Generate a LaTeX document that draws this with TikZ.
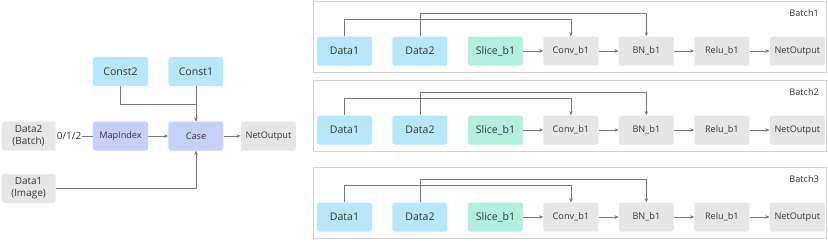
\documentclass[tikz,border=0pt]{standalone}
\usepackage{fontspec}
\setmainfont{Open Sans}
\usepackage{tikz}
\usetikzlibrary{positioning,arrows.meta}
\definecolor{cyanbox}{HTML}{B7E7FB}
\definecolor{lavbox}{HTML}{C5D1FB}
\definecolor{mintbox}{HTML}{B2EFE1}
\definecolor{graybox}{HTML}{E6E6E9}
\definecolor{txtgray}{HTML}{363636}
\definecolor{linegray}{HTML}{787878}
\definecolor{framegray}{HTML}{D2D2D2}

\begin{document}
\begin{tikzpicture}[
  x=0.03cm, y=-0.03cm,
  box/.style={rectangle, rounded corners=1.5pt, minimum width=1.65cm,
              minimum height=0.87cm, align=center, inner sep=1pt,
              text=txtgray, font=\fontsize{7.8}{9}\selectfont},
  databox/.style={box, fill=cyanbox, font=\fontsize{9}{10}\selectfont},
  slicebox/.style={box, fill=mintbox, font=\fontsize{9}{10}\selectfont},
  mapbox/.style={box, fill=lavbox},
  opbox/.style={box, fill=graybox},
  inbox/.style={box, fill=graybox, minimum width=1.62cm,
                font=\fontsize{8.5}{10.2}\selectfont},
  arr/.style={-{Stealth[length=3.5pt,width=3pt]}, draw=linegray, line width=0.5pt},
  ln/.style={draw=linegray, line width=0.5pt},
  frame/.style={draw=framegray, line width=0.6pt, fill=white},
  node distance=0.6cm,
]
\useasboundingbox (0,0) rectangle (828,240);

% case graph
\node[mapbox] (mapidx) at (120.5,136) {MapIndex};
\node[mapbox, right=of mapidx] (case) {Case};
\node[opbox, right=0.51cm of case] (netout) {NetOutput};
\node[databox, above=1.05cm of mapidx] (const2) {Const2};
\node[databox, above=1.05cm of case] (const1) {Const1};
\node[inbox, left=1.11cm of mapidx] (data2) {Data2\\(Batch)};
\node[inbox, below=0.69cm of data2] (data1) {Data1\\(Image)};

\draw[ln] (data2) -- node[pos=0.36, fill=white, inner sep=1pt, text=txtgray,
  font=\fontsize{8.5}{10}\selectfont]{0/1/2} (mapidx);
\draw[arr] (mapidx) -- (case);
\draw[arr] (case) -- (netout);
\draw[ln] (const2.south) -- ++(0,18) -| (case.north);
\draw[arr] (const1) -- (case);
\draw[arr] (data1.east) -| (case.south);

% batch graphs
\foreach \i/\t in {1/1,2/80,3/167}{
  \draw[frame] (313,\t) rectangle (826,\t+71);
  \node[anchor=east, text=txtgray, font=\fontsize{7.8}{9}\selectfont]
    (lbl-\i) at (823,\t+12) {Batch\i};
  \node[databox] (d1-\i) at (344.5,\t+50) {Data1};
  \node[databox, right=of d1-\i] (d2-\i) {Data2};
  \node[slicebox, right=of d2-\i] (sl-\i) {Slice\_b1};
  \node[opbox, right=of sl-\i] (cv-\i) {Conv\_b1};
  \node[opbox, right=of cv-\i] (bn-\i) {BN\_b1};
  \node[opbox, right=of bn-\i] (rl-\i) {Relu\_b1};
  \node[opbox, right=of rl-\i] (no-\i) {NetOutput};
  \draw[arr] (sl-\i) -- (cv-\i);
  \draw[arr] (cv-\i) -- (bn-\i);
  \draw[arr] (bn-\i) -- (rl-\i);
  \draw[arr] (rl-\i) -- (no-\i);
  \draw[arr] (d1-\i.north) -- ++(0,-16.5) -| (cv-\i.north);
  \draw[arr] (d2-\i.north) -- ++(0,-22.5) -| (bn-\i.north);
}
\end{tikzpicture}
\end{document}
